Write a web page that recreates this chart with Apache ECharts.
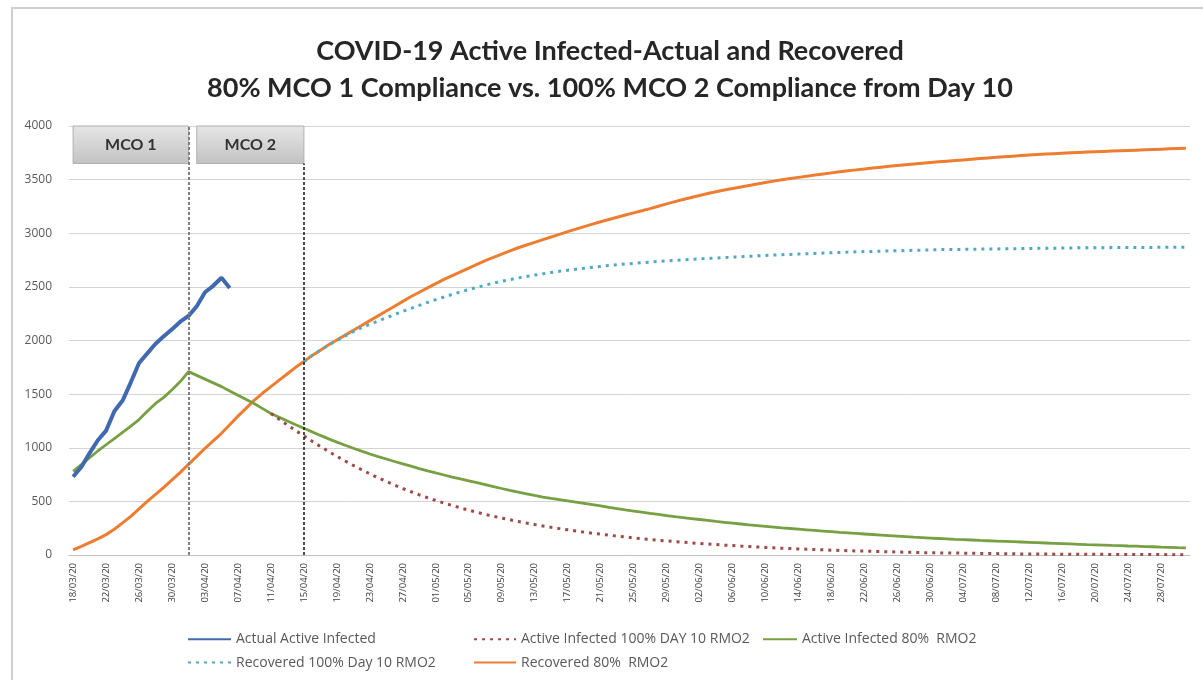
<!DOCTYPE html>
<html>
<head>
<meta charset="utf-8">
<title>COVID-19 Active Infected-Actual and Recovered</title>
<script src="https://cdn.jsdelivr.net/npm/echarts@6/dist/echarts.min.js"></script>
<style>
html, body { margin: 0; padding: 0; background: #fff; }
#main { width: 1203px; height: 680px; }
</style>
</head>
<body>
<div id="main"></div>
<script>
// 日期 18/03/20 - 31/07/20
var dates = [
  '18/03/20','19/03/20','20/03/20','21/03/20','22/03/20','23/03/20','24/03/20','25/03/20','26/03/20','27/03/20',
  '28/03/20','29/03/20','30/03/20','31/03/20','01/04/20','02/04/20','03/04/20','04/04/20','05/04/20','06/04/20',
  '07/04/20','08/04/20','09/04/20','10/04/20','11/04/20','12/04/20','13/04/20','14/04/20','15/04/20','16/04/20',
  '17/04/20','18/04/20','19/04/20','20/04/20','21/04/20','22/04/20','23/04/20','24/04/20','25/04/20','26/04/20',
  '27/04/20','28/04/20','29/04/20','30/04/20','01/05/20','02/05/20','03/05/20','04/05/20','05/05/20','06/05/20',
  '07/05/20','08/05/20','09/05/20','10/05/20','11/05/20','12/05/20','13/05/20','14/05/20','15/05/20','16/05/20',
  '17/05/20','18/05/20','19/05/20','20/05/20','21/05/20','22/05/20','23/05/20','24/05/20','25/05/20','26/05/20',
  '27/05/20','28/05/20','29/05/20','30/05/20','31/05/20','01/06/20','02/06/20','03/06/20','04/06/20','05/06/20',
  '06/06/20','07/06/20','08/06/20','09/06/20','10/06/20','11/06/20','12/06/20','13/06/20','14/06/20','15/06/20',
  '16/06/20','17/06/20','18/06/20','19/06/20','20/06/20','21/06/20','22/06/20','23/06/20','24/06/20','25/06/20',
  '26/06/20','27/06/20','28/06/20','29/06/20','30/06/20','01/07/20','02/07/20','03/07/20','04/07/20','05/07/20',
  '06/07/20','07/07/20','08/07/20','09/07/20','10/07/20','11/07/20','12/07/20','13/07/20','14/07/20','15/07/20',
  '16/07/20','17/07/20','18/07/20','19/07/20','20/07/20','21/07/20','22/07/20','23/07/20','24/07/20','25/07/20',
  '26/07/20','27/07/20','28/07/20','29/07/20','30/07/20','31/07/20'
];

var actualActive = [
  730, 820, 950, 1070, 1160, 1340, 1440, 1610, 1790, 1880,
  1970, 2040, 2105, 2175, 2230, 2320, 2450, 2510, 2585, 2490
];

var active100 = [
  null, null, null, null, null, null, null, null, null, null,
  null, null, null, null, null, null, null, null, null, null,
  null, null, null, null, 1320, 1265, 1212, 1160, 1110, 1060,
  1012, 965, 920, 877, 835, 795, 757, 720, 685, 652,
  620, 590, 561, 534, 508, 484, 461, 439, 418, 398,
  379, 361, 344, 328, 313, 298, 284, 271, 258, 246,
  235, 224, 213, 203, 194, 185, 176, 168, 160, 152,
  145, 138, 131, 125, 119, 113, 108, 102, 97, 92,
  88, 83, 79, 75, 71, 67, 63, 60, 57, 54,
  51, 48, 45, 42, 40, 38, 36, 34, 32, 30,
  28, 26, 24, 22, 21, 20, 19, 18, 17, 16,
  15, 14, 13, 12, 11, 10, 10, 9, 9, 8,
  8, 7, 7, 6, 6, 6, 5, 5, 5, 4,
  4, 4, 4, 3, 3, 3
];

var active80 = [
  780, 843, 907, 970, 1028, 1086, 1143, 1201, 1263, 1341,
  1413, 1470, 1540, 1617, 1710, 1675, 1640, 1605, 1570, 1530,
  1490, 1450, 1410, 1365, 1320, 1285, 1250, 1215, 1182, 1148,
  1115, 1083, 1052, 1023, 995, 968, 942, 918, 895, 872,
  850, 828, 806, 785, 765, 746, 727, 709, 692, 674,
  657, 638, 620, 603, 587, 571, 555, 540, 527, 517,
  505, 493, 481, 469, 457, 445, 433, 421, 410, 399,
  388, 378, 368, 358, 349, 340, 331, 322, 313, 305,
  297, 289, 281, 274, 267, 260, 253, 247, 241, 235,
  229, 223, 217, 211, 206, 201, 196, 191, 186, 181,
  176, 171, 166, 162, 158, 154, 150, 146, 143, 140,
  136, 133, 130, 127, 124, 121, 118, 115, 112, 109,
  106, 103, 100, 97, 95, 92, 89, 87, 84, 82,
  79, 77, 74, 72, 69, 67
];

var recovered100 = [
  null, null, null, null, null, null, null, null, null, null,
  null, null, null, null, null, null, null, null, null, null,
  null, null, null, null, null, null, null, null, 1805, 1860,
  1910, 1958, 2000, 2042, 2082, 2120, 2150, 2182, 2212, 2242,
  2272, 2300, 2328, 2355, 2381, 2406, 2430, 2453, 2475, 2496,
  2516, 2535, 2552, 2568, 2583, 2597, 2610, 2622, 2634, 2645,
  2655, 2665, 2674, 2683, 2691, 2699, 2706, 2713, 2719, 2725,
  2731, 2737, 2742, 2747, 2752, 2757, 2761, 2765, 2769, 2773,
  2777, 2781, 2785, 2789, 2793, 2797, 2800, 2803, 2806, 2809,
  2812, 2815, 2818, 2821, 2824, 2827, 2829, 2831, 2833, 2835,
  2837, 2839, 2841, 2843, 2845, 2847, 2848, 2849, 2850, 2851,
  2852, 2853, 2854, 2855, 2856, 2857, 2858, 2859, 2860, 2861,
  2862, 2863, 2864, 2864, 2865, 2865, 2866, 2866, 2867, 2867,
  2868, 2868, 2869, 2869, 2870, 2870
];

var recovered80 = [
  47, 80, 115, 150, 190, 240, 300, 360, 430, 500,
  565, 630, 700, 770, 845, 920, 995, 1065, 1135, 1215,
  1295, 1370, 1445, 1510, 1570, 1630, 1690, 1750, 1805, 1860,
  1910, 1960, 2005, 2050, 2095, 2140, 2185, 2230, 2275, 2320,
  2365, 2410, 2450, 2490, 2530, 2570, 2605, 2640, 2675, 2710,
  2745, 2775, 2805, 2835, 2865, 2890, 2915, 2940, 2965, 2990,
  3015, 3038, 3062, 3085, 3107, 3128, 3149, 3170, 3190, 3210,
  3230, 3252, 3274, 3295, 3315, 3334, 3352, 3370, 3387, 3403,
  3418, 3432, 3446, 3460, 3473, 3486, 3498, 3510, 3521, 3532,
  3543, 3553, 3563, 3573, 3582, 3591, 3600, 3608, 3616, 3624,
  3632, 3639, 3646, 3653, 3660, 3666, 3672, 3678, 3684, 3690,
  3696, 3702, 3708, 3714, 3719, 3724, 3729, 3734, 3738, 3742,
  3746, 3750, 3754, 3757, 3760, 3763, 3766, 3769, 3772, 3775,
  3778, 3781, 3784, 3787, 3790, 3793
];

// MCO 阶段
var mco1 = ['18/03/20', '01/04/20'];
var mco2 = ['02/04/20', '15/04/20'];
var boxBottom = 3650;
var yTicks = [0, 4000, 500];

var myChart = echarts.init(document.getElementById('main'));

var legendText = { fontFamily: 'Open Sans', fontSize: 14, color: '#595959' };
// 图例只画线, 不画圆点
var legendItem = { opacity: 0 };

var option = {
  backgroundColor: '#fff',
  animation: false,
  title: {
    text: 'COVID-19 Active Infected-Actual and Recovered\n80% MCO 1 Compliance vs. 100% MCO 2 Compliance from Day 10',
    left: 610,
    top: 33,
    padding: 0,
    textAlign: 'center',
    textStyle: {
      fontFamily: 'Lato',
      fontWeight: 'bold',
      fontSize: 27,
      lineHeight: 37,
      color: '#262626'
    }
  },
  graphic: [{
    type: 'rect',
    shape: { x: 12, y: 8, width: 1200, height: 690 },
    style: { fill: 'none', stroke: '#cfcfcf', lineWidth: 2 },
    silent: true
  }],
  legend: [{
    orient: 'vertical', left: 182, top: 627, itemGap: 9, itemWidth: 43, itemHeight: 18,
    itemStyle: legendItem,
    textStyle: legendText,
    data: ['Actual Active Infected', 'Recovered 100% Day 10 RMO2']
  }, {
    orient: 'vertical', left: 468, top: 627, itemGap: 9, itemWidth: 42, itemHeight: 18,
    itemStyle: legendItem,
    textStyle: legendText,
    data: ['Active Infected 100% DAY 10 RMO2', 'Recovered 80%  RMO2']
  }, {
    orient: 'vertical', left: 757, top: 627, itemGap: 9, itemWidth: 34, itemHeight: 18,
    itemStyle: legendItem,
    textStyle: legendText,
    data: ['Active Infected 80%  RMO2']
  }],
  grid: { left: 69, right: 13, top: 126, bottom: 125 },
  xAxis: {
    type: 'category',
    data: dates,
    boundaryGap: true,
    axisLine: { lineStyle: { color: '#bfbfbf' } },
    axisTick: { interval: 3, length: 4, lineStyle: { color: '#bfbfbf' } },
    axisLabel: { interval: 3, rotate: 90, fontFamily: 'Open Sans', fontSize: 9.5, color: '#404040', margin: 8 }
  },
  yAxis: {
    type: 'value',
    min: yTicks[0],
    max: yTicks[1],
    interval: yTicks[2],
    axisLine: { show: false },
    axisTick: { show: false },
    axisLabel: {
      fontFamily: 'Open Sans', fontSize: 12, color: '#595959', margin: 17,
      formatter: function(v) { return String(v); }
    },
    splitLine: { lineStyle: { color: '#d4d4d4' } }
  },
  series: [{
    name: 'Recovered 80%  RMO2',
    type: 'line',
    symbol: 'none',
    data: recovered80,
    lineStyle: { color: '#ED7D31', width: 3 },
    itemStyle: { color: '#ED7D31' },
    markArea: {
      silent: true,
      itemStyle: {
        color: new echarts.graphic.LinearGradient(0, 0, 0, 1, [
          { offset: 0, color: '#e6e6e6' },
          { offset: 1, color: '#c2c2c2' }
        ]),
        borderColor: '#b0b0b0',
        borderWidth: 1
      },
      label: { show: true, position: 'inside', fontFamily: 'Lato', fontWeight: 'bold', fontSize: 16, color: '#333' },
      data: [
        [{ name: 'MCO 1', xAxis: mco1[0], yAxis: boxBottom }, { xAxis: mco1[1], yAxis: yTicks[1] }],
        [{ name: 'MCO 2', xAxis: mco2[0], yAxis: boxBottom }, { xAxis: mco2[1], yAxis: yTicks[1] }]
      ]
    }
  }, {
    name: 'Active Infected 80%  RMO2',
    type: 'line',
    symbol: 'none',
    data: active80,
    lineStyle: { color: '#77A043', width: 2.8 },
    itemStyle: { color: '#77A043' }
  }, {
    name: 'Active Infected 100% DAY 10 RMO2',
    type: 'line',
    symbol: 'none',
    data: active100,
    lineStyle: { color: '#9E4A45', width: 3, type: [3, 5] },
    itemStyle: { color: '#9E4A45' }
  }, {
    name: 'Recovered 100% Day 10 RMO2',
    type: 'line',
    symbol: 'none',
    data: recovered100,
    lineStyle: { color: '#4BACC6', width: 3, type: [3, 5] },
    itemStyle: { color: '#4BACC6' }
  }, {
    name: 'Actual Active Infected',
    type: 'line',
    symbol: 'none',
    data: actualActive,
    lineStyle: { color: '#4169B0', width: 4 },
    itemStyle: { color: '#4169B0' },
    markLine: {
      silent: true,
      symbol: 'none',
      label: { show: false },
      data: [
        [{ coord: [mco1[1], 0], lineStyle: { color: '#808080', type: [3, 2], width: 2 } }, { coord: [mco1[1], yTicks[1]] }],
        [{ coord: [mco2[1], 0], lineStyle: { color: '#111', type: [3, 2], width: 1.5 } }, { coord: [mco2[1], boxBottom] }]
      ]
    }
  }]
};

myChart.setOption(option);
</script>
</body>
</html>
